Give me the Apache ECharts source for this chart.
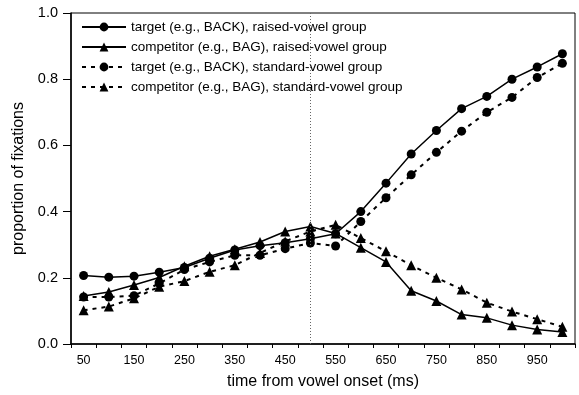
<!DOCTYPE html>
<html>
<head>
<meta charset="utf-8">
<script src="https://cdn.jsdelivr.net/npm/echarts@6/dist/echarts.min.js"></script>
<style>
  html, body { margin: 0; padding: 0; background: #fff; }
  #chart { width: 579px; height: 395px; }
</style>
</head>
<body>
<div id="chart"></div>
<script>
// time bins (ms from vowel onset)
const times = ['50', '100', '150', '200', '250', '300', '350', '400', '450', '500',
  '550', '600', '650', '700', '750', '800', '850', '900', '950', '1000']

const targetRaised = [0.207, 0.202, 0.205, 0.217, 0.231, 0.259, 0.284, 0.297, 0.306, 0.318,
  0.333, 0.400, 0.486, 0.574, 0.645, 0.711, 0.748, 0.800, 0.837, 0.877]
const competitorRaised = [0.145, 0.157, 0.178, 0.201, 0.235, 0.265, 0.286, 0.308, 0.340, 0.355,
  0.334, 0.291, 0.248, 0.161, 0.130, 0.089, 0.079, 0.057, 0.044, 0.036]
const targetStandard = [0.142, 0.142, 0.146, 0.183, 0.225, 0.248, 0.268, 0.268, 0.288, 0.305,
  0.296, 0.370, 0.442, 0.511, 0.579, 0.643, 0.700, 0.745, 0.805, 0.848]
const competitorStandard = [0.102, 0.113, 0.138, 0.173, 0.190, 0.218, 0.238, 0.275, 0.310, 0.340,
  0.360, 0.320, 0.280, 0.238, 0.200, 0.165, 0.125, 0.098, 0.075, 0.052]

const names = [
  'target (e.g., BACK), raised-vowel group',
  'competitor (e.g., BAG), raised-vowel group',
  'target (e.g., BACK), standard-vowel group',
  'competitor (e.g., BAG), standard-vowel group'
]

const font = 'Liberation Sans, Arial, sans-serif'

const chart = echarts.init(document.getElementById('chart'))

const makeSeries = (name, data, symbol, dashed) => ({
  name: name,
  type: 'line',
  data: data,
  symbol: symbol,
  symbolSize: symbol === 'circle' ? 9 : 10,
  showSymbol: true,
  animation: false,
  itemStyle: { color: '#000' },
  lineStyle: { color: '#000', width: dashed ? 2 : 1.5, type: dashed ? [4, 5] : 'solid' },
  z: 3
})

const series = [
  makeSeries(names[0], targetRaised, 'circle', false),
  makeSeries(names[1], competitorRaised, 'triangle', false),
  makeSeries(names[2], targetStandard, 'circle', true),
  makeSeries(names[3], competitorStandard, 'triangle', true)
]

// dotted reference line at 500 ms
series[0].markLine = {
  silent: true,
  symbol: 'none',
  label: { show: false },
  lineStyle: { color: '#666', width: 1, type: [1, 2] },
  data: [{ xAxis: '500' }]
}

const option = {
  backgroundColor: '#fff',
  animation: false,
  grid: {
    left: 71,
    right: 4,
    top: 13,
    bottom: 49,
    show: true,
    borderColor: '#000',
    borderWidth: 1
  },
  legend: {
    orient: 'vertical',
    left: 76,
    top: 15,
    itemWidth: 44,
    itemHeight: 11,
    itemGap: 6,
    data: names,
    textStyle: { fontFamily: font, fontSize: 13.5, color: '#000' }
  },
  xAxis: {
    type: 'category',
    data: times,
    boundaryGap: true,
    name: 'time from vowel onset (ms)',
    nameLocation: 'middle',
    nameGap: 30,
    nameTextStyle: { fontFamily: font, fontSize: 16, color: '#000' },
    axisLine: { lineStyle: { color: '#000', width: 1.5 } },
    axisTick: { show: true, interval: 0, length: 4, lineStyle: { color: '#000' } },
    axisLabel: { interval: 1, margin: 10, fontFamily: font, fontSize: 12.5, color: '#000' },
    splitLine: { show: false }
  },
  yAxis: {
    type: 'value',
    min: 0,
    max: 1,
    interval: 0.2,
    name: 'proportion of fixations',
    nameLocation: 'middle',
    nameGap: 41,
    nameTextStyle: { fontFamily: font, fontSize: 16, color: '#000' },
    axisLine: { show: true, lineStyle: { color: '#000', width: 1.5 } },
    axisTick: { show: true, length: 8, lineStyle: { color: '#000' } },
    axisLabel: {
      margin: 13,
      fontFamily: font,
      fontSize: 14.5,
      color: '#000',
      formatter: v => v.toFixed(1)
    },
    splitLine: { show: false }
  },
  series: series
}

chart.setOption(option)
</script>
</body>
</html>
